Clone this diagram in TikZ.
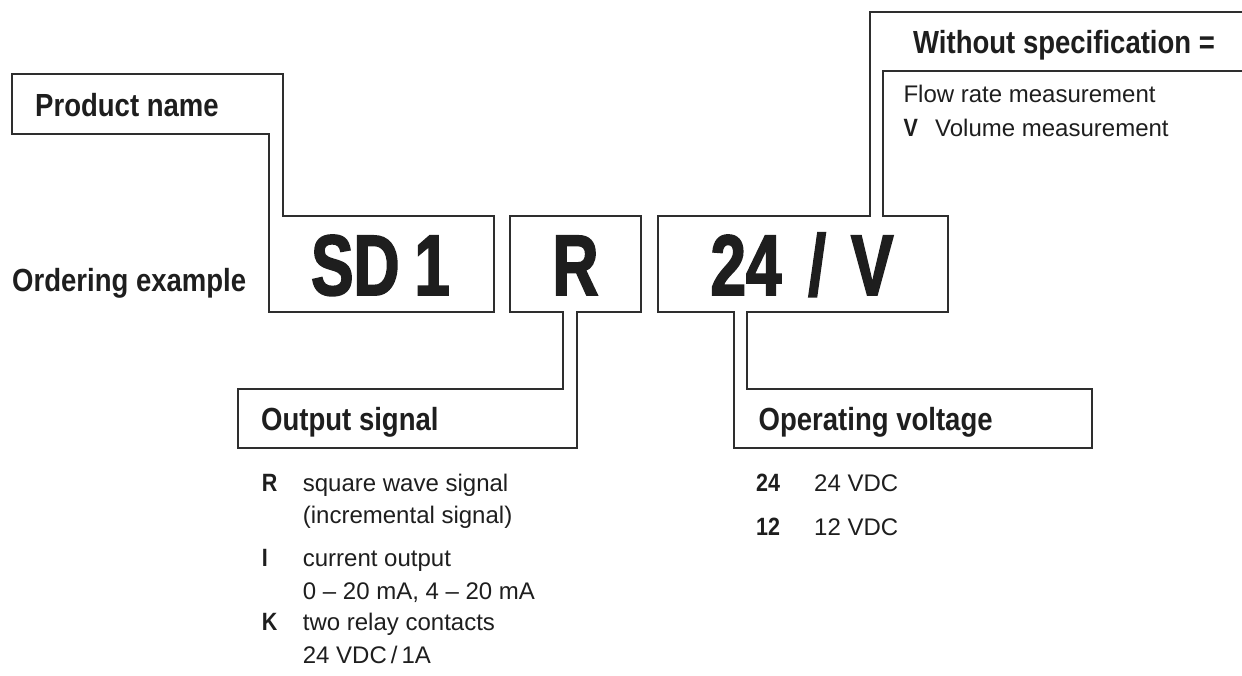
\documentclass[tikz,border=0pt]{standalone}
\usepackage{fontspec}
\setmainfont{Liberation Sans}
\newfontfamily\condfont{Liberation Sans}[FakeStretch=0.86]
\newfontfamily\narrowfont{Liberation Sans}[FakeStretch=0.74, FakeBold=2]
\usetikzlibrary{positioning}
\definecolor{Ink}{HTML}{1E1E1E}
\definecolor{Frame}{HTML}{2E2E2E}

\begin{document}
\begin{tikzpicture}[x=1pt, y=-1pt,
    outline/.style={draw=Frame, line width=1.3pt, line join=miter},
    head/.style={anchor=base west, inner sep=0pt, text=Ink, font=\condfont\bfseries\fontsize{32}{38}\selectfont},
    code/.style={anchor=base, inner sep=0pt, text=Ink, font=\narrowfont\bfseries\fontsize{86}{90}\selectfont},
    key/.style={anchor=base west, inner sep=0pt, text=Ink, font=\condfont\bfseries\fontsize{25}{30}\selectfont},
    txt/.style={anchor=base west, inner sep=0pt, text=Ink, font=\fontsize{24}{30}\selectfont}]
  \useasboundingbox (0,0) rectangle (1242,675);

  % callout outlines
  \draw[outline] (12,74) -- (283,74) -- (283,216) -- (494,216) -- (494,312) -- (269,312) -- (269,134) -- (12,134) -- cycle;
  \draw[outline] (510,216) -- (641,216) -- (641,312) -- (577,312) -- (577,448) -- (238,448) -- (238,389) -- (563,389) -- (563,312) -- (510,312) -- cycle;
  \draw[outline] (1242,12) -- (870,12) -- (870,216) -- (658,216) -- (658,312) -- (734,312) -- (734,448) -- (1092,448) -- (1092,389)
    -- (747,389) -- (747,312) -- (948,312) -- (948,216) -- (883,216) -- (883,71) -- (1242,71);

  \node[head] (prodname) at (35,116.7) {Product name};
  \node[head] (ordering) at (12,291.7) {Ordering example};
  \node[code] (sdone) at (380.5,295) {SD\hspace{15pt}1};
  \node[code] (sigcode) at (575.5,295) {R};
  \node[code] (voltcode) at (802,295) {24\hspace{27pt}/\hspace{25pt}V};
  \node[head] (outhead) at (261,430) {Output signal};
  \node[head] (opvhead) at (758.5,430.5) {Operating voltage};
  \node[head] (wohead) at (913,53) {Without specification =};

  \node[txt] (flow) at (903.3,102.3) {Flow rate measurement};
  \node[key] (vkey) at (903.3,136.7) {V};
  \node[txt] (vol) at (935,136.7) {Volume measurement};

  \node[key] (rkey) at (261.7,491.7) {R};
  \node[txt] (rtxt) at (302.7,491.7) {square wave signal};
  \node[txt] (rtxtb) at (302.7,523) {(incremental signal)};
  \node[key] (ikey) at (261.7,566.7) {I};
  \node[txt] (itxt) at (302.7,566.7) {current output};
  \node[txt] (itxtb) at (302.7,599) {0 – 20 mA, 4 – 20 mA};
  \node[key] (kkey) at (261.7,630.7) {K};
  \node[txt] (ktxt) at (302.7,630.7) {two relay contacts};
  \node[txt] (ktxtb) at (302.7,663.5) {24 VDC\,/\,1A};

  \node[key] (tfkey) at (756,491.7) {24};
  \node[txt] (tftxt) at (814,491.7) {24 VDC};
  \node[key] (twkey) at (756,535) {12};
  \node[txt] (twtxt) at (814,535) {12 VDC};
\end{tikzpicture}
\end{document}
